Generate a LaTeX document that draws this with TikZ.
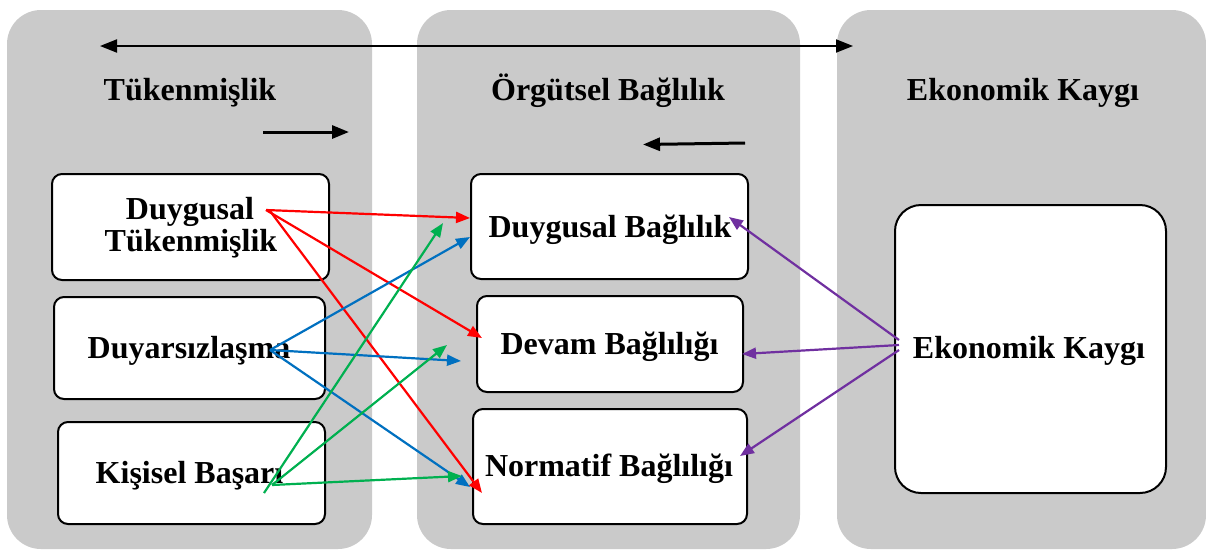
\documentclass[tikz,border=0pt]{standalone}
\usepackage{fontspec}
\setmainfont{Liberation Serif}
\usetikzlibrary{arrows.meta}
\definecolor{panelgray}{HTML}{CACACA}
\definecolor{linkred}{HTML}{FF0000}
\definecolor{linkblue}{HTML}{0070C0}
\definecolor{linkgreen}{HTML}{00B050}
\definecolor{linkpurple}{HTML}{7030A0}
\begin{document}
\begin{tikzpicture}[x=1pt,y=-1pt,
  panel/.style={fill=panelgray, rounded corners=34pt},
  box/.style={draw=black, line width=2pt, fill=white, rounded corners=10pt,
    inner sep=0pt, anchor=north west},
  lbl/.style={font=\fontsize{32}{36}\selectfont\bfseries, anchor=base, inner sep=0pt},
  conn/.style={line width=2.2pt, -{Triangle[length=14pt,width=11pt]}},
  flow/.style={line width=3pt, -{Triangle[length=17pt,width=13pt]}},
  bigflow/.style={line width=2pt, {Triangle[length=17pt,width=13pt]}-{Triangle[length=17pt,width=13pt]}}]
\useasboundingbox (0,0) rectangle (1206,550);

% grey column panels
\fill[panel] (7,10) rectangle (372,549);
\fill[panel] (417,10) rectangle (800,549);
\fill[panel] (837,10) rectangle (1206,549);

% column titles
\node[lbl] (tTuk) at (190,100) {Tükenmişlik};
\node[lbl] (tOrg) at (608,100) {Örgütsel Bağlılık};
\node[lbl] (tEko) at (1023,100) {Ekonomik Kaygı};

% black direction arrows
\coordinate (topL) at (100,46);
\coordinate (topR) at (853,46);
\draw[bigflow] (topL) -- (topR);
\coordinate (fwA) at (263,132);
\coordinate (fwB) at (349,132);
\draw[flow] (fwA) -- (fwB);
\coordinate (bkA) at (745,143);
\coordinate (bkB) at (643,144.5);
\draw[flow] (bkA) -- (bkB);

% boxes
\node[box, minimum width=277pt, minimum height=106pt] (dt) at (51,173) {};
\node[box, minimum width=271pt, minimum height=102pt] (dy) at (53,296) {};
\node[box, minimum width=267pt, minimum height=102pt] (kb) at (57,421) {};
\node[box, minimum width=277pt, minimum height=105pt] (db) at (470,173) {};
\node[box, minimum width=266pt, minimum height=96pt] (dvb) at (476,295) {};
\node[box, minimum width=274pt, minimum height=115pt] (nb) at (472,408) {};
\node[box, rounded corners=26pt, minimum width=271pt, minimum height=288pt] (ek) at (894,204) {};

% box labels
\node[lbl] (dtA) at (190,219) {Duygusal};
\node[lbl] (dtB) at (191,251) {Tükenmişlik};
\node[lbl] (dyL) at (189,358) {Duyarsızlaşma};
\node[lbl] (kbL) at (189.5,483) {Kişisel Başarı};
\node[lbl] (dbL) at (610,237) {Duygusal Bağlılık};
\node[lbl] (dvL) at (609.5,354) {Devam Bağlılığı};
\node[lbl] (nbL) at (609,476) {Normatif Bağlılığı};
\node[lbl] (ekL) at (1029,358) {Ekonomik Kaygı};

% connector end points
\coordinate (rS) at (266,210);
\coordinate (rS2) at (270,211);
\coordinate (rT1) at (470,218);
\coordinate (rT2) at (482,338);
\coordinate (rT3) at (482,493);
\coordinate (bS) at (270,350);
\coordinate (bT1) at (470,237);
\coordinate (bT2) at (461,361);
\coordinate (bT3) at (470,487);
\coordinate (gS1) at (264,493);
\coordinate (gS2) at (272,485);
\coordinate (gT1) at (443,223);
\coordinate (gT2) at (447,345);
\coordinate (gT3) at (462,476);
\coordinate (pS1) at (899,340);
\coordinate (pS2) at (899,345);
\coordinate (pS3) at (899,350);
\coordinate (pT1) at (729,217);
\coordinate (pT2) at (742,354);
\coordinate (pT3) at (740,456);

% Duygusal Tükenmişlik links
\draw[conn, linkred] (rS) -- (rT1);
\draw[conn, linkred] (rS) -- (rT2);
\draw[conn, linkred] (rS2) -- (rT3);
% Duyarsızlaşma links
\draw[conn, linkblue] (bS) -- (bT1);
\draw[conn, linkblue] (bS) -- (bT2);
\draw[conn, linkblue] (bS) -- (bT3);
% Kişisel Başarı links
\draw[conn, linkgreen] (gS1) -- (gT1);
\draw[conn, linkgreen] (gS2) -- (gT2);
\draw[conn, linkgreen] (gS2) -- (gT3);
% Ekonomik Kaygı links
\draw[conn, linkpurple] (pS1) -- (pT1);
\draw[conn, linkpurple] (pS2) -- (pT2);
\draw[conn, linkpurple] (pS3) -- (pT3);
\end{tikzpicture}
\end{document}
